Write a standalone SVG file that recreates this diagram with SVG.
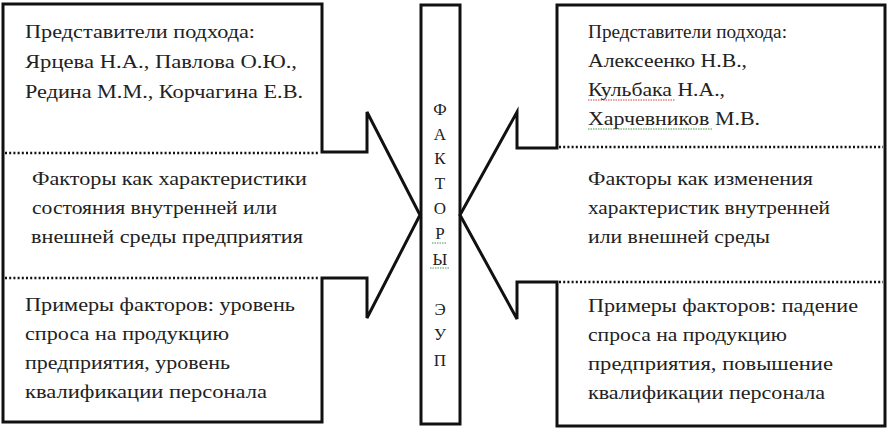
<svg xmlns="http://www.w3.org/2000/svg" width="895" height="432" viewBox="0 0 895 432">
<rect width="895" height="432" fill="#fff"/>
<g id="left-block">
<path d="M3,4 H322 V152 H367 V112 L420,215 L367,318 V278 H322 V422 H3 Z" fill="#fff" stroke="#111" stroke-width="3"/>
<line x1="5" y1="153" x2="320" y2="153" stroke="#111" stroke-width="2.5" stroke-dasharray="2 2.2"/>
<line x1="5" y1="278" x2="320" y2="278" stroke="#111" stroke-width="2.5" stroke-dasharray="2 2.2"/>
<text x="25" y="38" font-family="Liberation Serif" font-size="19" fill="#222" textLength="230" lengthAdjust="spacingAndGlyphs">Представители подхода:</text>
<text x="25" y="68" font-family="Liberation Serif" font-size="19" fill="#222" textLength="272" lengthAdjust="spacingAndGlyphs">Ярцева Н.А., Павлова О.Ю.,</text>
<text x="25" y="98" font-family="Liberation Serif" font-size="19" fill="#222" textLength="278" lengthAdjust="spacingAndGlyphs">Редина М.М., Корчагина Е.В.</text>
<text x="32" y="185" font-family="Liberation Serif" font-size="18" fill="#222" textLength="275" lengthAdjust="spacingAndGlyphs">Факторы как характеристики</text>
<text x="32" y="214" font-family="Liberation Serif" font-size="18" fill="#222" textLength="245" lengthAdjust="spacingAndGlyphs">состояния внутренней или</text>
<text x="31" y="243" font-family="Liberation Serif" font-size="18" fill="#222" textLength="272" lengthAdjust="spacingAndGlyphs">внешней среды предприятия</text>
<text x="25" y="311" font-family="Liberation Serif" font-size="18" fill="#222" textLength="270" lengthAdjust="spacingAndGlyphs">Примеры факторов: уровень</text>
<text x="25" y="340" font-family="Liberation Serif" font-size="18" fill="#222" textLength="204" lengthAdjust="spacingAndGlyphs">спроса на продукцию</text>
<text x="25" y="369" font-family="Liberation Serif" font-size="18" fill="#222" textLength="205" lengthAdjust="spacingAndGlyphs">предприятия, уровень</text>
<text x="25" y="398" font-family="Liberation Serif" font-size="18" fill="#222" textLength="242" lengthAdjust="spacingAndGlyphs">квалификации персонала</text>
</g>
<g id="center-column">
<rect x="421" y="5" width="39" height="419" fill="#fff" stroke="#111" stroke-width="3"/>
<text x="440" y="115" font-family="Liberation Serif" font-size="17" fill="#222" text-anchor="middle">Ф</text>
<text x="440" y="140" font-family="Liberation Serif" font-size="17" fill="#222" text-anchor="middle">А</text>
<text x="440" y="164" font-family="Liberation Serif" font-size="17" fill="#222" text-anchor="middle">К</text>
<text x="440" y="189" font-family="Liberation Serif" font-size="17" fill="#222" text-anchor="middle">Т</text>
<text x="440" y="214" font-family="Liberation Serif" font-size="17" fill="#222" text-anchor="middle">О</text>
<text x="440" y="239" font-family="Liberation Serif" font-size="17" fill="#222" text-anchor="middle">Р</text>
<text x="440" y="265" font-family="Liberation Serif" font-size="17" fill="#222" text-anchor="middle">Ы</text>
<text x="440" y="315" font-family="Liberation Serif" font-size="17" fill="#222" text-anchor="middle">Э</text>
<text x="440" y="340" font-family="Liberation Serif" font-size="17" fill="#222" text-anchor="middle">У</text>
<text x="440" y="366" font-family="Liberation Serif" font-size="17" fill="#222" text-anchor="middle">П</text>
<line x1="432" y1="243" x2="446" y2="243" stroke="#4a9a4a" stroke-width="1" stroke-dasharray="1.5 1"/>
<line x1="430" y1="268" x2="449" y2="268" stroke="#4a9a4a" stroke-width="1" stroke-dasharray="1.5 1"/>
</g>
<g id="right-block">
<path d="M885,5 H557 V148 H517 V112 L460,215 L517,319 V282 H557 V426 H885 Z" fill="#fff" stroke="#111" stroke-width="3"/>
<line x1="559" y1="147" x2="883" y2="147" stroke="#111" stroke-width="2.5" stroke-dasharray="2 2.2"/>
<line x1="559" y1="282" x2="883" y2="282" stroke="#111" stroke-width="2.5" stroke-dasharray="2 2.2"/>
<text x="588" y="38" font-family="Liberation Serif" font-size="18" fill="#222" textLength="199" lengthAdjust="spacingAndGlyphs">Представители подхода:</text>
<text x="588" y="67" font-family="Liberation Serif" font-size="18" fill="#222" textLength="159" lengthAdjust="spacingAndGlyphs">Алексеенко Н.В.,</text>
<text x="588" y="96" font-family="Liberation Serif" font-size="18" fill="#222" textLength="137" lengthAdjust="spacingAndGlyphs">Кульбака Н.А.,</text>
<text x="588" y="125" font-family="Liberation Serif" font-size="18" fill="#222" textLength="172" lengthAdjust="spacingAndGlyphs">Харчевников М.В.</text>
<line x1="588" y1="100" x2="675" y2="100" stroke="#d04040" stroke-width="1" stroke-dasharray="1.5 1"/>
<line x1="588" y1="129" x2="712" y2="129" stroke="#4a9a4a" stroke-width="1" stroke-dasharray="1.5 1"/>
<text x="588" y="185" font-family="Liberation Serif" font-size="18" fill="#222" textLength="225" lengthAdjust="spacingAndGlyphs">Факторы как изменения</text>
<text x="588" y="214" font-family="Liberation Serif" font-size="18" fill="#222" textLength="242" lengthAdjust="spacingAndGlyphs">характеристик внутренней</text>
<text x="588" y="243" font-family="Liberation Serif" font-size="18" fill="#222" textLength="182" lengthAdjust="spacingAndGlyphs">или внешней среды</text>
<text x="588" y="312" font-family="Liberation Serif" font-size="18" fill="#222" textLength="270" lengthAdjust="spacingAndGlyphs">Примеры факторов: падение</text>
<text x="588" y="341" font-family="Liberation Serif" font-size="18" fill="#222" textLength="199" lengthAdjust="spacingAndGlyphs">спроса на продукцию</text>
<text x="588" y="370" font-family="Liberation Serif" font-size="18" fill="#222" textLength="245" lengthAdjust="spacingAndGlyphs">предприятия, повышение</text>
<text x="588" y="399" font-family="Liberation Serif" font-size="18" fill="#222" textLength="237" lengthAdjust="spacingAndGlyphs">квалификации персонала</text>
</g>
</svg>
